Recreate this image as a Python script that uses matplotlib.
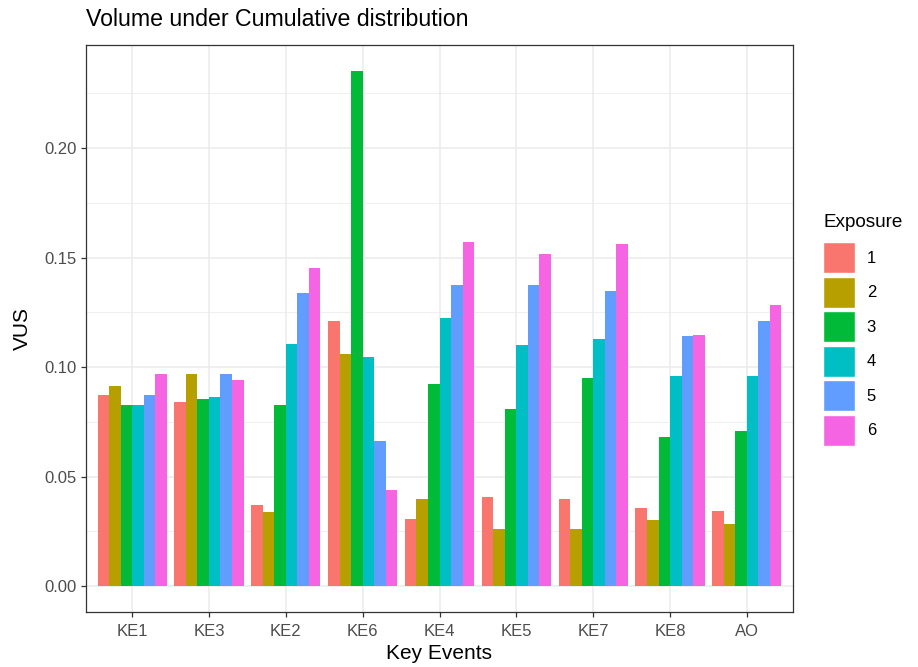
import matplotlib
matplotlib.use("Agg")
import matplotlib.pyplot as plt
from matplotlib.patches import Patch
import numpy as np

plt.rcParams['font.family'] = ['Liberation Sans', 'DejaVu Sans']

categories = ["KE1", "KE3", "KE2", "KE6", "KE4", "KE5", "KE7", "KE8", "AO"]
exposures = ["1", "2", "3", "4", "5", "6"]
colors = ["#F8766D", "#B79F00", "#00BA38", "#00BFC4", "#619CFF", "#F564E3"]

exp1 = [0.0874, 0.0842, 0.0372, 0.1209, 0.0309, 0.0406, 0.0397, 0.0358, 0.0345]
exp2 = [0.0916, 0.0970, 0.0338, 0.1060, 0.0397, 0.0262, 0.0262, 0.0303, 0.0282]
exp3 = [0.0828, 0.0855, 0.0828, 0.2353, 0.0925, 0.0808, 0.0952, 0.0680, 0.0707]
exp4 = [0.0828, 0.0862, 0.1107, 0.1047, 0.1224, 0.1101, 0.1128, 0.0959, 0.0959]
exp5 = [0.0874, 0.0970, 0.1339, 0.0664, 0.1374, 0.1374, 0.1346, 0.1141, 0.1210]
exp6 = [0.0970, 0.0943, 0.1454, 0.0440, 0.1571, 0.1517, 0.1564, 0.1148, 0.1285]
series = [exp1, exp2, exp3, exp4, exp5, exp6]

fig = plt.figure(figsize=(9.18, 6.67), dpi=100)
ax = fig.add_axes([86/918, 1 - 612/667, (793 - 86)/918, (612 - 45)/667])

x = np.arange(1, len(categories) + 1)
n = len(series)
total_w = 0.9
w = total_w / n
for i, (vals, c) in enumerate(zip(series, colors)):
    offs = -total_w/2 + w*(i + 0.5)
    ax.bar(x + offs, vals, width=w, color=c, edgecolor='none', zorder=3)

ymax = max(max(s) for s in series)
ax.set_ylim(-0.05*ymax, 1.05*ymax)
ax.set_xlim(0.4, len(categories) + 0.6)
ax.set_xticks(x)
ax.set_xticklabels(categories)
ax.set_yticks([0.0, 0.05, 0.10, 0.15, 0.20])
ax.set_yticklabels(["0.00", "0.05", "0.10", "0.15", "0.20"])
ax.set_yticks([0.025, 0.075, 0.125, 0.175, 0.225], minor=True)

ax.grid(which='major', color='#EBEBEB', linewidth=1.1, zorder=0)
ax.grid(which='minor', axis='y', color='#EBEBEB', linewidth=0.55, zorder=0)
ax.set_axisbelow(True)
for sp in ax.spines.values():
    sp.set_color('#333333')
    sp.set_linewidth(0.9)
ax.tick_params(axis='both', which='major', colors='#333333', labelcolor='#4D4D4D',
               labelsize=12, length=3.5, width=0.9, pad=3)
ax.tick_params(axis='x', which='major', pad=5)
ax.tick_params(axis='both', which='minor', length=0)

ax.set_xlabel("Key Events", fontsize=15, color='black', labelpad=4)
ax.set_ylabel("VUS", fontsize=15, color='black', labelpad=9)
fig.text(86/918, 1 - 19/667, "Volume under Cumulative distribution", fontsize=16.7,
         ha='left', va='center', color='black')

handles = [Patch(facecolor=c, edgecolor='white', linewidth=1.0) for c in colors]
leg = fig.legend(handles, exposures, title="Exposure", loc='upper left',
                 bbox_to_anchor=(820/918, 1 - 211/667), frameon=False,
                 fontsize=12, title_fontsize=13.6, handlelength=1.9, handleheight=2.48,
                 labelspacing=0.21, handletextpad=0.7, borderaxespad=0, borderpad=0.2)
leg._legend_box.align = "left"
leg._legend_box.sep = 8

fig.savefig("out.png", dpi=100)
